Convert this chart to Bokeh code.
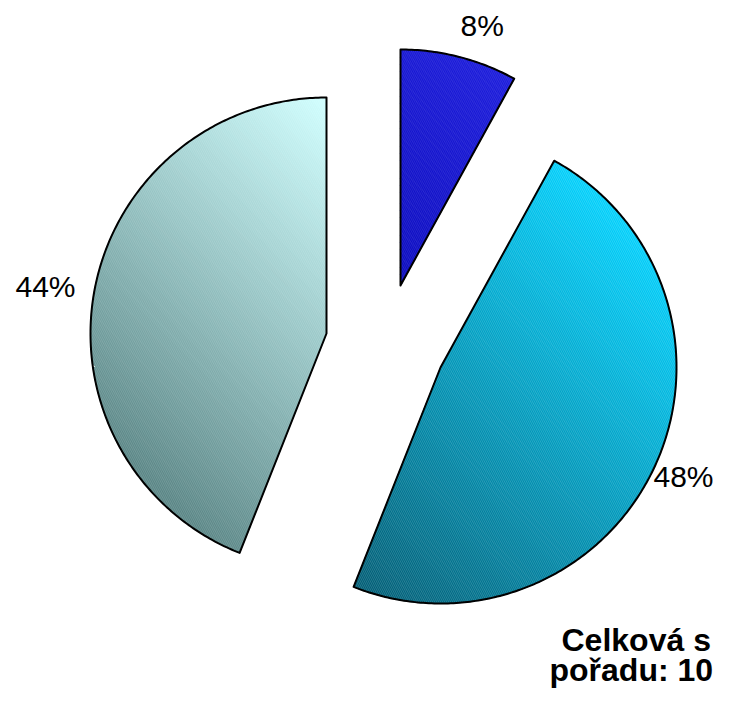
import numpy as np
from bokeh.plotting import figure
from bokeh.models import Range1d
from bokeh.embed import file_html
from bokeh.resources import INLINE
from bokeh.core.properties import value

# ---------------- data ----------------
shares = [8, 48, 44]                      # percent, clockwise from 12 o'clock
share_labels = [f"{v}%" for v in shares]
title_lines = ["Celková s", "pořadu: 10"]

# ---------------- style / layout ----------------
W, H = 720, 691
REF_H = 707
RADIUS = 236
PIE_CENTER = (383, 330)                   # picture pixels
EXPLODE = [(17, -45), (57, 37), (-57, 3)]  # explode offsets (px)
LIGHT = ["#1c1cdc", "#00d0fc", "#d0ffff"]
DARK = ["#0c0cc0", "#005c74", "#588484"]
HATCH_ALPHA = [0.12, 0.22, 0.18]
GRAD_DIR = np.array([-1.0, 1.0]) / np.sqrt(2)   # towards darker
TEXT_SHIFT = 11                                  # baseline correction (px)
LABEL_POS = [(460, 36), (653, 487), (15, 297)]  # left / visual baseline, px
TITLE_POS = [(561, 650), (549, 680)]
FONT = "Liberation Sans"


def to_data(pts):
    pts = np.asarray(pts, float)
    return pts[:, 0], REF_H - pts[:, 1]


def clip(poly, g, c, keep_ge):
    out = []
    n = len(poly)
    for i in range(n):
        a, b = poly[i], poly[(i + 1) % n]
        da, db = a @ g - c, b @ g - c
        ina = da >= 0 if keep_ge else da <= 0
        inb = db >= 0 if keep_ge else db <= 0
        if ina:
            out.append(a)
        if ina != inb:
            t = da / (da - db)
            out.append(a + t * (b - a))
    return out


def hex2rgb(h):
    h = h.lstrip("#")
    return np.array([int(h[i:i + 2], 16) for i in (0, 2, 4)], float)


def rgb2hex(c):
    c = np.clip(np.round(c), 0, 255).astype(int)
    return "#%02x%02x%02x" % tuple(c)


p = figure(width=W, height=H, output_backend="svg", toolbar_location=None,
           x_axis_type=None, y_axis_type=None, min_border=0,
           x_range=Range1d(0, W), y_range=Range1d(REF_H - H, REF_H))
p.grid.visible = False
p.outline_line_color = None
p.background_fill_color = "white"

total = float(sum(shares))
start = 0.0
for i, v in enumerate(shares):
    span = 360.0 * v / total
    th = np.radians(np.linspace(start, start + span, max(8, int(span * 1.5))))
    start += span
    ax = PIE_CENTER[0] + EXPLODE[i][0]
    ay = PIE_CENTER[1] + EXPLODE[i][1]
    arc = np.column_stack([ax + RADIUS * np.sin(th), ay - RADIUS * np.cos(th)])
    poly = np.vstack([[ax, ay], arc])

    # gradient strips
    proj = poly @ GRAD_DIR
    tmin, tmax = proj.min(), proj.max()
    n = 90
    edges = np.linspace(tmin, tmax, n + 1)
    lc, dc = hex2rgb(LIGHT[i]), hex2rgb(DARK[i])
    xs, ys, cols = [], [], []
    plist = [q for q in poly]
    for k in range(n):
        piece = clip(plist, GRAD_DIR, edges[k], True)
        if len(piece) < 3:
            continue
        piece = clip(piece, GRAD_DIR, edges[k + 1], False)
        if len(piece) < 3:
            continue
        f = (0.5 * (edges[k] + edges[k + 1]) - tmin) / (tmax - tmin)
        px, py = to_data(piece)
        xs.append(list(px))
        ys.append(list(py))
        cols.append(rgb2hex(lc + (dc - lc) * f))
    p.patches(xs, ys, fill_color=cols, line_color=cols, line_width=1)

    # fine texture + outline
    dx, dy = to_data(poly)
    p.patch(dx, dy, fill_alpha=0, line_color=None,
            hatch_pattern="\\", hatch_color="white", hatch_alpha=HATCH_ALPHA[i],
            hatch_scale=4, hatch_weight=0.7)
    p.patch(dx, dy, fill_alpha=0, line_color="black", line_width=2,
            line_join="round")

# percentage labels
for (lx, ly), lab in zip(LABEL_POS, share_labels):
    p.text(x=[lx], y=[REF_H - ly + TEXT_SHIFT], text=[lab], text_font=value(FONT),
           text_font_size="30px", text_color="black", text_align="left",
           text_baseline="alphabetic")

# title text
for (tx, ty), t in zip(TITLE_POS, title_lines):
    p.text(x=[tx], y=[REF_H - ty + TEXT_SHIFT], text=[t], text_font=value(FONT),
           text_font_size="32px", text_font_style="bold", text_color="black",
           text_align="left", text_baseline="alphabetic")

open("out.html", "w").write(file_html(p, INLINE))
